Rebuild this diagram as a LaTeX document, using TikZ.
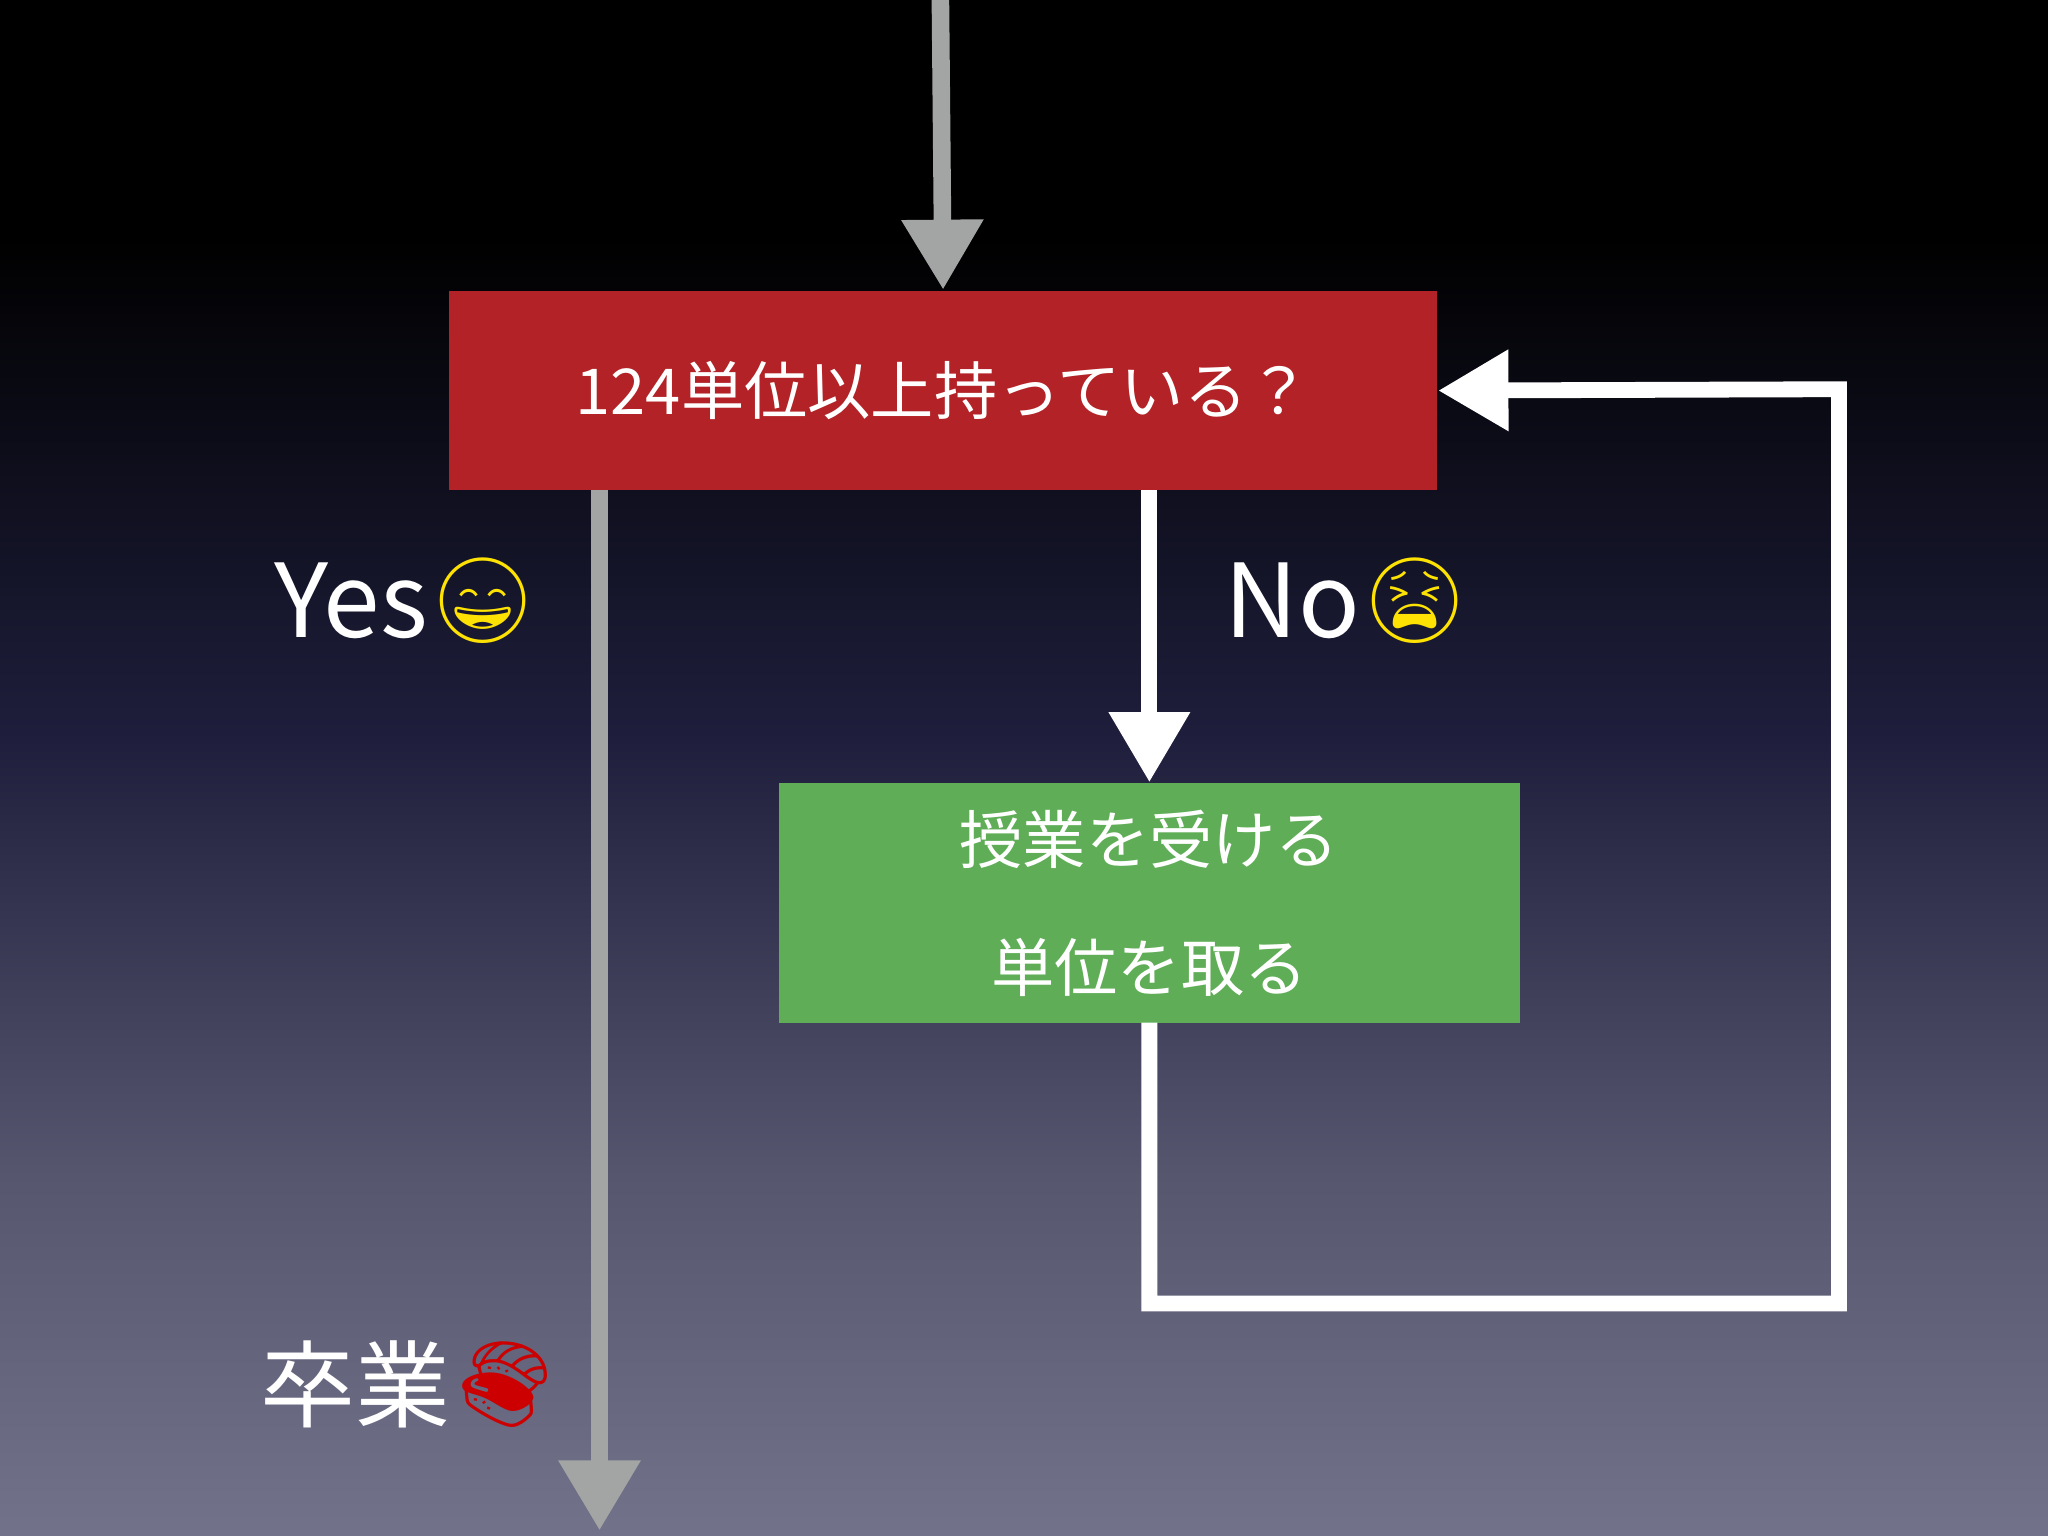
\documentclass[tikz,border=0pt]{standalone}
\usepackage{fontspec}
\setmainfont{Noto Sans CJK JP}
\newfontfamily\emo{Noto Emoji}
\usetikzlibrary{arrows.meta}
\definecolor{boxred}{HTML}{B22226}
\definecolor{boxgreen}{HTML}{5FAD56}
\definecolor{arrgray}{HTML}{A3A5A4}
\definecolor{bgA}{HTML}{72728A}
\definecolor{bgB}{HTML}{56566F}
\definecolor{bgC}{HTML}{1E1E3C}
\begin{document}
\begin{tikzpicture}[x=0.01306cm,y=-0.01306cm,
  grayarrow/.style={draw=arrgray,line width=5pt,-{Triangle[width=22pt,length=20pt]}},
  whitearrow/.style={draw=white,line width=4.5pt,-{Triangle[width=22pt,length=20pt]}},
  boxtext/.style={text=white,font=\fontsize{18}{22}\selectfont},
  lbl/.style={text=white,font=\fontsize{29}{34}\selectfont,inner sep=0pt},
  emj/.style={font=\emo\fontsize{24}{28}\selectfont,inner sep=0pt}]
\useasboundingbox (0,0) rectangle (1568,1176);
\fill[black] (0,0) rectangle (1568,181);
\shade[top color=black,bottom color=bgC] (0,180) rectangle (1568,561);
\shade[top color=bgC,bottom color=bgB] (0,560) rectangle (1568,901);
\shade[top color=bgB,bottom color=bgA] (0,900) rectangle (1568,1176);
\node[fill=boxred,minimum width=757*0.01306cm,minimum height=153*0.01306cm,anchor=north west,inner sep=0pt] (q) at (343,222) {};
\node[boxtext] at (q.center) {124単位以上持っている？};
\node[fill=boxgreen,minimum width=567*0.01306cm,minimum height=184*0.01306cm,anchor=north west,inner sep=0pt] (g) at (596,599) {};
\node[boxtext] (g1) at (880,643) {授業を受ける};
\node[boxtext] (g2) at (880,741) {単位を取る};
\coordinate (top) at (720,0);
\coordinate (ybot) at (459,1172);
\coordinate (qy) at (459,375);
\coordinate (qn) at (880,375);
\coordinate (gb) at (880,783);
\coordinate (l1) at (880,998);
\coordinate (l2) at (1408,998);
\coordinate (l3) at (1408,298);
\draw[grayarrow] (top) -- (q.north);
\draw[grayarrow] (qy) -- (ybot);
\draw[whitearrow] (qn) -- (g.north -| qn);
\draw[whitearrow,line join=miter] (gb) -- (l1) -- (l2) -- (l3) -- (q.east);
\node[lbl,anchor=east] (yes) at (328,460) {Yes};
\node[emj,text=yellow!85!orange,anchor=west] (yese) at (yes.east) {😄};
\node[lbl,anchor=east] (no) at (1042,460) {No};
\node[emj,text=yellow!85!orange,anchor=west] (noe) at (no.east) {😫};
\node[lbl,font=\fontsize{27}{32}\selectfont,anchor=east] (grad) at (345,1060) {卒業};
\node[emj,text=red!80!black,anchor=west] (grade) at (grad.east) {🍣};
\end{tikzpicture}
\end{document}
